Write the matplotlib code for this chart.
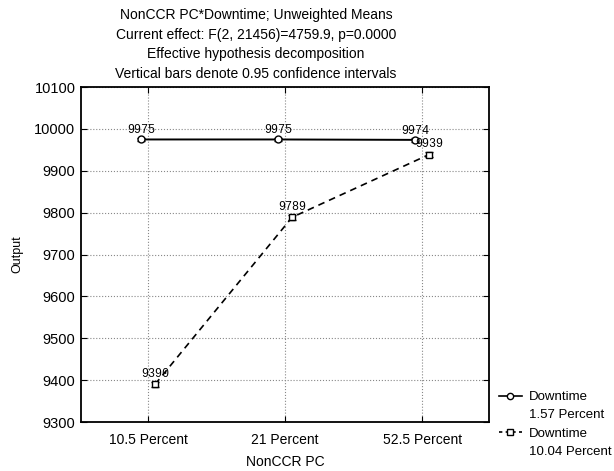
import matplotlib.pyplot as plt
from matplotlib.lines import Line2D

plt.rcParams['font.family'] = ['Liberation Sans', 'DejaVu Sans']

# NonCCR PC levels and unweighted means per downtime level
levels = ['10.5 Percent', '21 Percent', '52.5 Percent']
means_low = [9975, 9975, 9974]      # downtime 1.57 percent
means_high = [9390, 9789, 9939]     # downtime 10.04 percent
ci_low = [4, 4, 4]
ci_high = [6, 6, 6]

fig = plt.figure(figsize=(6.14, 4.71), dpi=100)
ax = fig.add_axes([0.132, 0.104, 0.665, 0.711])

# small horizontal dodge so the two series don't sit on top of each other
x_low = [i - 0.05 for i in range(len(levels))]
x_high = [i + 0.05 for i in range(len(levels))]

ax.errorbar(x_low, means_low, yerr=ci_low, color='black', lw=1.4, marker='o',
            ms=5, mfc='white', mec='black', mew=1.0, capsize=3, elinewidth=0.9)
ax.errorbar(x_high, means_high, yerr=ci_high, color='black', lw=1.2,
            ls=(0, (4, 3)), marker='s', ms=5, mfc='white', mec='black',
            mew=1.0, capsize=3, elinewidth=0.9)

for xi, v in zip(x_low, means_low):
    ax.text(xi, v + 8, str(v), ha='center', va='bottom', fontsize=8.5,
            family='Liberation Mono')
for xi, v in zip(x_high, means_high):
    ax.text(xi, v + 10, str(v), ha='center', va='bottom', fontsize=8.5,
            family='Liberation Mono')

ax.set_xlim(-0.49, 2.49)
ax.set_ylim(9300, 10100)
ax.set_yticks(range(9300, 10101, 100))
ax.set_xticks(range(len(levels)))
ax.set_xticklabels(levels, fontsize=10)
ax.tick_params(axis='y', labelsize=10.5, pad=4)
ax.tick_params(axis='x', pad=8)
ax.tick_params(direction='in', top=True, right=True, length=4)
ax.grid(True, ls=':', color='#888888', lw=0.8)

for s in ax.spines.values():
    s.set_linewidth(1.3)

ax.set_xlabel('NonCCR PC', fontsize=10, labelpad=6)
ax.set_ylabel('Output', fontsize=9, labelpad=8)

fig.text(0.417, 0.983, 'NonCCR PC*Downtime; Unweighted Means\n'
         'Current effect: F(2, 21456)=4759.9, p=0.0000\n'
         'Effective hypothesis decomposition\n'
         'Vertical bars denote 0.95 confidence intervals',
         ha='center', va='top', fontsize=10, linespacing=1.52)

# legend: marker line on the first row, level text on a row below it
h_low = Line2D([], [], color='black', lw=1.2, marker='o', ms=4.5,
               mfc='white', mec='black')
h_high = Line2D([], [], color='black', lw=1.2, ls=(0, (2, 2)), marker='s',
                ms=4.5, mfc='white', mec='black')
blank = Line2D([], [], color='none')
ax.legend([h_low, blank, h_high, blank],
          ['Downtime', '1.57 Percent', 'Downtime', '10.04 Percent'],
          loc='upper left', bbox_to_anchor=(1.0, 0.12), frameon=False,
          fontsize=9.5, handlelength=1.8, handletextpad=0.5,
          labelspacing=0.45, borderaxespad=0.3)

fig.savefig('out.png', dpi=100)
